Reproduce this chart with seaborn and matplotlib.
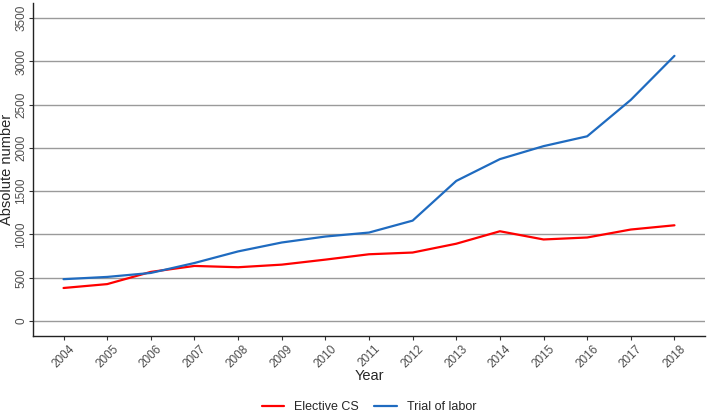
import matplotlib
matplotlib.use("Agg")
import matplotlib.pyplot as plt
import seaborn as sns
import pandas as pd

years = list(range(2004, 2019))
elective_cs = [380, 425, 566, 635, 620, 650, 708, 770, 790, 892, 1036, 941, 964, 1056, 1105]
trial_of_labor = [482, 508, 554, 669, 803, 906, 975, 1021, 1159, 1618, 1870, 2020, 2134, 2555, 3064]
yticks = [0, 500, 1000, 1500, 2000, 2500, 3000, 3500]

df = pd.DataFrame({
    "Year": years * 2,
    "value": elective_cs + trial_of_labor,
    "group": ["Elective CS"] * len(years) + ["Trial of labor"] * len(years),
})

sns.set_style("white")
plt.rcParams["font.family"] = ["Liberation Sans", "DejaVu Sans"]

fig = plt.figure(figsize=(7.09, 4.13), dpi=100)
ax = fig.add_axes([33 / 709, 1 - 336 / 413, 672 / 709, 333 / 413])

sns.lineplot(data=df, x="Year", y="value", hue="group",
             palette={"Elective CS": "#FF0000", "Trial of labor": "#1F6BC0"},
             linewidth=1.6, ax=ax, legend=True)

ax.set_xlim(2003.3, 2018.7)
ax.set_ylim(-175, 3675)
ax.set_xticks(years)
ax.set_xticklabels([str(y) for y in years], rotation=45, fontsize=8.5, color="#4d4d4d")
ax.set_yticks(yticks)
ax.set_yticklabels([str(v) for v in yticks], rotation=90, va="center", fontsize=8.5, color="#4d4d4d")
ax.tick_params(axis="x", length=3, width=0.8, color="#333333", pad=2, bottom=True)
ax.tick_params(axis="y", length=3, width=0.8, color="#333333", pad=1, left=True)
ax.yaxis.grid(True, color="#9a9a9a", linewidth=1.0)
ax.xaxis.grid(False)
ax.set_axisbelow(True)

for s in ["top", "right"]:
    ax.spines[s].set_visible(False)
for s in ["left", "bottom"]:
    ax.spines[s].set_color("#222222")
    ax.spines[s].set_linewidth(1.0)

ax.set_xlabel("Year", fontsize=10.5, labelpad=-1)
ax.set_ylabel("Absolute number", fontsize=10.5, labelpad=1)

ax.legend(title=None, loc="lower center", bbox_to_anchor=(0.5, -0.265), ncol=2,
          frameon=False, fontsize=9, handlelength=1.8, columnspacing=1.2)

fig.savefig("out.png", dpi=100)
